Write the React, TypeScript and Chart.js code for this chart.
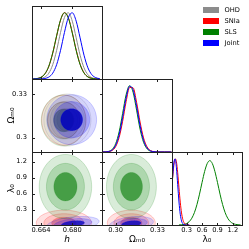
import React, { useEffect, useRef } from "react";
import { Chart, registerables } from "chart.js";

Chart.register(...registerables);
Chart.defaults.font.family = "'DejaVu Sans', sans-serif";
Chart.defaults.color = "#000";

// ---------------- data ----------------
const SERIES_NAMES = ["OHD", "SNIa", "SLS", "Joint"];

const H_TICKS = [0.664, 0.68];
const H_TICK_LABELS = ["0.664", "0.680"];
const OM_TICKS = [0.3, 0.33];
const OM_X_TICK_LABELS = ["0.30", "0.33"];
const OM_Y_TICK_LABELS = ["0.3", "0.33"];
const LAM_TICKS = [0.3, 0.6, 0.9, 1.2];
const LAM_TICK_LABELS = ["0.3", "0.6", "0.9", "1.2"];

const H_RANGE = [0.6594, 0.6952];
const OM_RANGE = [0.2902, 0.3404];
const LAM_RANGE = [0.014, 1.378];
const PDF_RANGE = [0, 1.1];

// 1D marginal of h
const H_GRID = [0.66, 0.662, 0.664, 0.666, 0.668, 0.67, 0.672, 0.674, 0.676, 0.678, 0.68, 0.682, 0.684, 0.686, 0.688, 0.69, 0.692, 0.694];
const H_OHD = [0.0003, 0.0017, 0.0078, 0.0292, 0.088, 0.216, 0.432, 0.702, 0.928, 0.998, 0.872, 0.62, 0.359, 0.169, 0.0646, 0.0201, 0.0051, 0.001];
const H_SNIA = [0.0015, 0.0069, 0.0254, 0.0767, 0.19, 0.388, 0.647, 0.887, 0.999, 0.923, 0.7, 0.436, 0.223, 0.0934, 0.0321, 0.0091, 0.0021, 0.0004];
const H_SLS = [0.0016, 0.0072, 0.0262, 0.0785, 0.194, 0.394, 0.653, 0.891, 0.999, 0.919, 0.693, 0.429, 0.218, 0.0905, 0.0309, 0.0087, 0.002, 0.0004];
const H_JOINT = [0, 0.0003, 0.0017, 0.0078, 0.0292, 0.088, 0.216, 0.432, 0.702, 0.928, 0.998, 0.872, 0.62, 0.359, 0.169, 0.0646, 0.0201, 0.0051];

// 1D marginal of Omega_m0
const OM_GRID = [0.29, 0.2925, 0.295, 0.2975, 0.3, 0.3025, 0.305, 0.3075, 0.31, 0.3125, 0.315, 0.3175, 0.32, 0.3225, 0.325, 0.3275, 0.33, 0.3325, 0.335, 0.3375, 0.34];
const OM_SNIA = [0.0001, 0.0009, 0.0053, 0.0234, 0.0814, 0.22, 0.464, 0.76, 0.972, 0.967, 0.749, 0.452, 0.212, 0.0778, 0.0222, 0.0049, 0.0009, 0.0001, 0, 0, 0];
const OM_SLS = [0.0003, 0.0019, 0.0098, 0.0397, 0.125, 0.305, 0.582, 0.864, 0.999, 0.9, 0.631, 0.344, 0.147, 0.0485, 0.0125, 0.0025, 0.0004, 0, 0, 0, 0];
const OM_JOINT = [0.0002, 0.0013, 0.0072, 0.0307, 0.101, 0.261, 0.522, 0.815, 0.99, 0.937, 0.691, 0.397, 0.177, 0.0617, 0.0167, 0.0035, 0.0006, 0.0001, 0, 0, 0];

// 1D marginal of lambda_0
const LAM_LOW_GRID = [0, 0.025, 0.05, 0.075, 0.1, 0.125, 0.15, 0.175, 0.2, 0.225, 0.25, 0.275, 0.3, 0.325, 0.35];
const LAM_SNIA = [0.469, 0.699, 0.899, 0.997, 0.954, 0.787, 0.56, 0.344, 0.182, 0.083, 0.0327, 0.011, 0.0033, 0.0008, 0];
const LAM_JOINT = [0.445, 0.716, 0.936, 0.996, 0.862, 0.607, 0.347, 0.162, 0.061, 0.019, 0.0047, 0.001, 0, 0, 0];
const LAM_GRID = [0.15, 0.2, 0.25, 0.3, 0.35, 0.4, 0.45, 0.5, 0.55, 0.6, 0.65, 0.7, 0.75, 0.8, 0.85, 0.9, 0.95, 1.0, 1.05, 1.1, 1.15, 1.2, 1.25, 1.3, 1.35];
const LAM_SLS = [0.0013, 0.0037, 0.0099, 0.0235, 0.0513, 0.102, 0.186, 0.308, 0.465, 0.642, 0.807, 0.926, 0.97, 0.926, 0.807, 0.642, 0.465, 0.308, 0.186, 0.102, 0.0513, 0.0235, 0.0099, 0.0037, 0.0013];

// 2D posteriors: [centre x, centre y, sigma x, sigma y, correlation]
const H_OM_OHD = [0.6775, 0.3122, 0.0035, 0.0052, 0];
const H_OM_SNIA = [0.6757, 0.3121, 0.0033, 0.005, 0];
const H_OM_SLS = [0.6755, 0.3119, 0.0033, 0.0051, 0];
const H_OM_JOINT = [0.6797, 0.3124, 0.0037, 0.005, 0];
const H_LAM_SNIA = [0.6757, 0.05, 0.0041, 0.07, 0];
const H_LAM_SLS = [0.6765, 0.73, 0.0039, 0.175, 0];
const H_LAM_JOINT = [0.6803, 0.035, 0.0039, 0.04, 0.35];
const OM_LAM_SNIA = [0.3112, 0.05, 0.005, 0.07, 0];
const OM_LAM_SLS = [0.3113, 0.73, 0.0052, 0.175, 0];
const OM_LAM_JOINT = [0.3112, 0.035, 0.0046, 0.04, 0.3];

// contour levels (99.7%, 95%, 68%) in sigma units
const LEVEL_K = [3.44, 2.49, 1.52];

// ---------------- styles ----------------
const LINE_COLORS: Record<string, string> = {
  OHD: "#8c8c8c",
  SNIa: "#ff0000",
  SLS: "#008000",
  Joint: "#0000ff",
};
const FILL_RGB: Record<string, number[][]> = {
  OHD: [[128, 128, 128], [128, 128, 128], [90, 90, 90]],
  SNIa: [[255, 0, 0], [255, 0, 0], [210, 0, 0]],
  SLS: [[0, 128, 0], [0, 128, 0], [0, 120, 0]],
  Joint: [[0, 0, 255], [0, 0, 255], [0, 0, 190]],
};
const FILL_ALPHA: Record<string, number[]> = {
  OHD: [0.13, 0.18, 0.3],
  SNIa: [0.14, 0.16, 0.35],
  SLS: [0.15, 0.2, 0.6],
  Joint: [0.15, 0.22, 0.85],
};
const EDGES: Record<string, string> = {
  OHD: "rgba(110,110,110,0.3)",
  SNIa: "rgba(255,0,0,0.35)",
  SLS: "rgba(0,128,0,0.3)",
  Joint: "rgba(0,0,255,0.3)",
};

const COL_EDGES = [32, 102, 172, 242];
const ROW_EDGES = [6, 79, 152, 225];
const SIZE = 249;

type AxisDef = {
  range: number[];
  ticks: number[];
  labels: string[];
  title: string;
  italic?: boolean;
};

const AX_H: AxisDef = { range: H_RANGE, ticks: H_TICKS, labels: H_TICK_LABELS, title: "h", italic: true };
const AX_OM_X: AxisDef = { range: OM_RANGE, ticks: OM_TICKS, labels: OM_X_TICK_LABELS, title: "Ωₘ₀" };
const AX_OM_Y: AxisDef = { range: OM_RANGE, ticks: OM_TICKS, labels: OM_Y_TICK_LABELS, title: "Ωₘ₀" };
const AX_LAM: AxisDef = { range: LAM_RANGE, ticks: LAM_TICKS, labels: LAM_TICK_LABELS, title: "λ₀" };
const AX_PDF: AxisDef = { range: PDF_RANGE, ticks: [], labels: [], title: "" };

type Curve = { name: string; xs: number[]; ys: number[] };
type Contour = { name: string; spec: number[]; fade?: number };
type PanelDef = {
  col: number;
  row: number;
  x: AxisDef;
  y: AxisDef;
  curves?: Curve[];
  contours?: Contour[];
};

const PANELS: PanelDef[] = [
  {
    col: 0, row: 0, x: AX_H, y: AX_PDF,
    curves: [
      { name: "Joint", xs: H_GRID, ys: H_JOINT },
      { name: "SLS", xs: H_GRID, ys: H_SLS },
      { name: "SNIa", xs: H_GRID, ys: H_SNIA },
      { name: "OHD", xs: H_GRID, ys: H_OHD },
    ],
  },
  {
    col: 0, row: 1, x: AX_H, y: AX_OM_Y,
    contours: [
      { name: "OHD", spec: H_OM_OHD, fade: 0.45 },
      { name: "SNIa", spec: H_OM_SNIA, fade: 0.5 },
      { name: "SLS", spec: H_OM_SLS, fade: 0.55 },
      { name: "Joint", spec: H_OM_JOINT, fade: 1 },
    ],
  },
  {
    col: 1, row: 1, x: AX_OM_X, y: AX_PDF,
    curves: [
      { name: "Joint", xs: OM_GRID, ys: OM_JOINT },
      { name: "SNIa", xs: OM_GRID, ys: OM_SNIA },
      { name: "SLS", xs: OM_GRID, ys: OM_SLS },
    ],
  },
  {
    col: 0, row: 2, x: AX_H, y: AX_LAM,
    contours: [
      { name: "SNIa", spec: H_LAM_SNIA, fade: 0.85 },
      { name: "SLS", spec: H_LAM_SLS, fade: 1 },
      { name: "Joint", spec: H_LAM_JOINT, fade: 0.9 },
    ],
  },
  {
    col: 1, row: 2, x: AX_OM_X, y: AX_LAM,
    contours: [
      { name: "SNIa", spec: OM_LAM_SNIA, fade: 0.85 },
      { name: "SLS", spec: OM_LAM_SLS, fade: 1 },
      { name: "Joint", spec: OM_LAM_JOINT, fade: 0.9 },
    ],
  },
  {
    col: 2, row: 2, x: AX_LAM, y: AX_PDF,
    curves: [
      { name: "Joint", xs: LAM_LOW_GRID, ys: LAM_JOINT },
      { name: "SNIa", xs: LAM_LOW_GRID, ys: LAM_SNIA },
      { name: "SLS", xs: LAM_GRID, ys: LAM_SLS },
    ],
  },
];

function makeContourPlugin(contours: Contour[]) {
  return {
    id: "contours",
    beforeDatasetsDraw(chart: any) {
      const { ctx, chartArea: a } = chart;
      const xs = chart.scales.x;
      const ys = chart.scales.y;
      ctx.save();
      ctx.beginPath();
      ctx.rect(a.left, a.top, a.right - a.left, a.bottom - a.top);
      ctx.clip();
      for (const c of contours) {
        const [cx, cy, sx, sy, rho] = c.spec;
        const q = Math.sqrt(1 - rho * rho);
        const fade = c.fade ?? 1;
        LEVEL_K.forEach((k, li) => {
          ctx.beginPath();
          const n = 90;
          for (let j = 0; j <= n; j++) {
            const t = (j / n) * Math.PI * 2;
            const vx = cx + k * sx * Math.cos(t);
            const vy = cy + k * sy * (rho * Math.cos(t) + q * Math.sin(t));
            const px = xs.getPixelForValue(vx);
            const py = ys.getPixelForValue(vy);
            if (j === 0) ctx.moveTo(px, py);
            else ctx.lineTo(px, py);
          }
          ctx.closePath();
          const rgb = FILL_RGB[c.name][li];
          const al = FILL_ALPHA[c.name][li] * fade;
          ctx.fillStyle = `rgba(${rgb[0]},${rgb[1]},${rgb[2]},${al})`;
          ctx.fill();
          ctx.lineWidth = 0.6;
          ctx.strokeStyle = EDGES[c.name];
          ctx.stroke();
        });
      }
      ctx.restore();
    },
  };
}

function makeFramePlugin(yTicks: boolean) {
  return {
    id: "frame",
    afterDraw(chart: any) {
      const { ctx, chartArea: a } = chart;
      const xs = chart.scales.x;
      const ys = chart.scales.y;
      ctx.save();
      ctx.strokeStyle = "#222";
      ctx.lineWidth = 1;
      ctx.strokeRect(a.left + 0.5, a.top + 0.5, a.right - a.left, a.bottom - a.top);
      const tl = 2.5;
      ctx.beginPath();
      for (const t of xs.ticks) {
        const px = Math.round(xs.getPixelForValue(t.value)) + 0.5;
        ctx.moveTo(px, a.bottom + 0.5);
        ctx.lineTo(px, a.bottom + 0.5 - tl);
        ctx.moveTo(px, a.top + 0.5);
        ctx.lineTo(px, a.top + 0.5 + tl);
      }
      if (yTicks) {
        for (const t of ys.ticks) {
          const py = Math.round(ys.getPixelForValue(t.value)) + 0.5;
          ctx.moveTo(a.left + 0.5, py);
          ctx.lineTo(a.left + 0.5 + tl, py);
          ctx.moveTo(a.right + 0.5, py);
          ctx.lineTo(a.right + 0.5 - tl, py);
        }
      }
      ctx.stroke();
      ctx.restore();
    },
  };
}

function scaleOptions(def: AxisDef, isX: boolean, showLabels: boolean, size: number) {
  return {
    type: "linear",
    position: isX ? "bottom" : "left",
    min: def.range[0],
    max: def.range[1],
    bounds: "data",
    grid: { display: false, drawTicks: false, drawOnChartArea: false },
    border: { display: false },
    ticks: {
      display: showLabels,
      autoSkip: false,
      maxRotation: 0,
      minRotation: 0,
      padding: isX ? 1.5 : 5,
      color: "#000",
      font: { size: 6.7 },
      callback: (_v: any, i: number) => def.labels[i] ?? "",
    },
    title: {
      display: showLabels && def.title !== "",
      text: def.title,
      color: "#000",
      font: { size: 9, style: def.italic ? "italic" : "normal" },
      padding: isX ? { top: 0, bottom: 4 } : { top: 6, bottom: 0 },
    },
    afterBuildTicks: (s: any) => {
      s.ticks = def.ticks.map((v) => ({ value: v }));
    },
    afterFit: (s: any) => {
      if (isX) s.height = size;
      else s.width = size;
    },
  };
}

function buildConfig(p: PanelDef): any {
  const isBottom = p.row === 2;
  const is2d = !!p.contours;
  const isLeft = p.col === 0 && is2d;
  const yW = isLeft ? 32 : 0;
  const xH = isBottom ? 24 : 0;
  const left = COL_EDGES[p.col];
  const right = COL_EDGES[p.col + 1];
  const top = ROW_EDGES[p.row];
  const bottom = ROW_EDGES[p.row + 1];

  const datasets = (p.curves || []).map((c) => ({
    label: c.name,
    data: c.xs.map((x, i) => ({ x, y: c.ys[i] })),
    borderColor: LINE_COLORS[c.name],
    backgroundColor: LINE_COLORS[c.name],
    borderWidth: 1,
    pointRadius: 0,
    fill: false,
    cubicInterpolationMode: "monotone",
  }));

  const plugins: any[] = [];
  if (is2d) plugins.push(makeContourPlugin(p.contours!));
  plugins.push(makeFramePlugin(is2d));

  return {
    type: is2d ? "scatter" : "line",
    data: { datasets },
    options: {
      animation: false,
      responsive: false,
      maintainAspectRatio: false,
      devicePixelRatio: 1,
      events: [],
      layout: {
        padding: { left: left - yW, right: SIZE - right, top, bottom: SIZE - bottom - xH },
      },
      plugins: { legend: { display: false }, tooltip: { enabled: false } },
      scales: {
        x: scaleOptions(p.x, true, isBottom, xH),
        y: scaleOptions(p.y, false, isLeft, yW),
      },
    },
    plugins,
  };
}

export default function App() {
  const refs = useRef<(HTMLCanvasElement | null)[]>([]);

  useEffect(() => {
    const charts = PANELS.map((p, i) => new Chart(refs.current[i] as HTMLCanvasElement, buildConfig(p)));
    return () => charts.forEach((c) => c.destroy());
  }, []);

  return (
    <div
      style={{
        position: "fixed",
        left: 0,
        top: 0,
        width: SIZE,
        height: SIZE,
        background: "#fff",
        overflow: "hidden",
        fontFamily: "'DejaVu Sans', sans-serif",
      }}
    >
      {PANELS.map((_, i) => (
        <canvas
          key={i}
          ref={(el) => {
            refs.current[i] = el;
          }}
          width={SIZE}
          height={SIZE}
          style={{ position: "absolute", left: 0, top: 0, width: SIZE, height: SIZE }}
        />
      ))}
      {SERIES_NAMES.map((name, i) => (
        <div
          key={name}
          style={{
            position: "absolute",
            left: 203,
            top: 5.7 + i * 11.25,
            height: 8,
            display: "flex",
            alignItems: "center",
            whiteSpace: "nowrap",
          }}
        >
          <div style={{ width: 16, height: 6, background: LINE_COLORS[name] }} />
          <span style={{ marginLeft: 5.5, fontSize: 6.7, lineHeight: "8px", color: "#000" }}>{name}</span>
        </div>
      ))}
    </div>
  );
}
